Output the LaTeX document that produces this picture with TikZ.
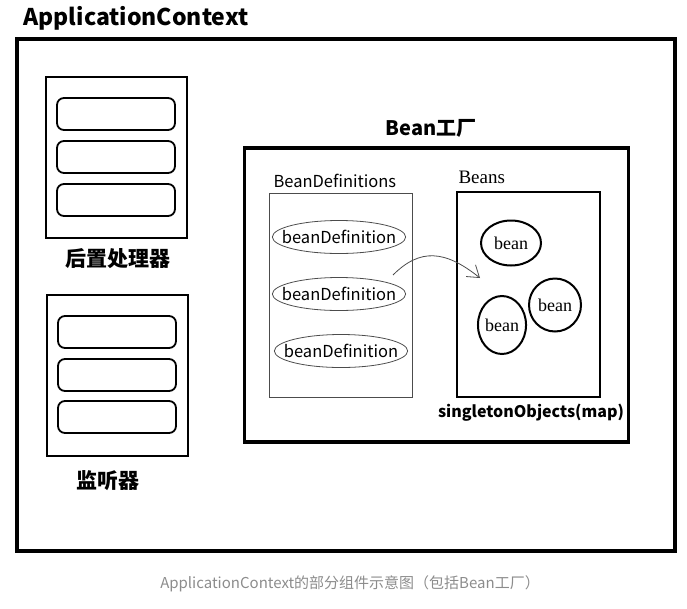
\documentclass[tikz,border=0pt]{standalone}
\usepackage{fontspec}
\newfontfamily\cjk{Noto Sans CJK SC}
\newfontfamily\beanfont{Liberation Serif}
\usepackage{tikz}
\usetikzlibrary{shapes,arrows.meta,positioning}

\begin{document}
\begin{tikzpicture}[x=1pt,y=-1pt,
    holder/.style={draw, line width=2pt, minimum width=141pt, minimum height=161pt},
    slot/.style={draw, line width=1.8pt, rounded corners=7pt, minimum width=118pt, minimum height=32pt},
    defn/.style={draw=black!70, ellipse, line width=0.8pt, minimum width=133pt, minimum height=33pt, inner xsep=-10pt, inner ysep=0pt, font=\cjk\fontsize{16.5}{16.5}\selectfont},
    bean/.style={draw, ellipse, line width=2pt, inner sep=0pt, font=\beanfont\fontsize{18}{18}\selectfont},
    heading/.style={font=\cjk\bfseries\fontsize{#1}{#1}\selectfont}]
    \useasboundingbox (0,0) rectangle (687,608);

    % ApplicationContext
    \node [draw, line width=4pt, minimum width=658pt, minimum height=512pt] (ctx) at (346,295) {};
    \node [heading=23, anchor=west] (ctxlabel) at (20,18) {ApplicationContext};

    % post processors
    \node [holder] (pp) at (116.5,157.5) {};
    \foreach \y/\n in {114/1,157/2,200/3}
        \node [slot] (pp\n) at (116,\y) {};
    \node [heading=21] (pplabel) at (118,259) {后置处理器};

    % listeners
    \node [holder] (ls) at (117.5,375.5) {};
    \foreach \y/\n in {332/1,375/2,417/3}
        \node [slot] (ls\n) at (117,\y) {};
    \node [heading=21] (lslabel) at (108,481) {监听器};

    % Bean factory
    \node [draw, line width=3.5pt, minimum width=384pt, minimum height=294pt] (factory) at (436.5,295) {};
    \node [heading=20] (factorylabel) at (431,128) {Bean工厂};

    % bean definitions
    \node [draw=black!70, line width=0.8pt, minimum width=143pt, minimum height=204pt] (defs) at (340.5,295) {};
    \node [anchor=west, font=\cjk\fontsize{16.5}{16.5}\selectfont] (defslabel) at (270,181) {BeanDefinitions};
    \node [defn] (def1) at (339,237) {beanDefinition};
    \node [defn] (def2) at (339,294) {beanDefinition};
    \node [defn] (def3) at (341,351) {beanDefinition};

    % singleton beans
    \node [draw, line width=2.5pt, minimum width=143pt, minimum height=205pt] (beans) at (528.5,294.5) {};
    \node [anchor=west, font=\beanfont\fontsize{19}{19}\selectfont] (beanslabel) at (455,177) {Beans};
    \node [bean, minimum width=60pt, minimum height=45pt] (bean1) at (511,243) {bean};
    \node [bean, minimum width=52pt, minimum height=53pt] (bean2) at (555,305) {bean};
    \node [bean, minimum width=45pt, minimum height=58pt] (bean3) at (502,325) {bean};
    \node [heading=16] (beanslabel2) at (531,413) {singletonObjects(map)};

    % definition -> bean
    \coordinate (src) at (393,275);
    \coordinate (dst) at (480,278);
    \draw [black!70, line width=0.8pt, -{Straight Barb[length=11pt,width=15pt]}] (src) .. controls (420,248) and (445,250) .. (dst);

    \node [font=\cjk\fontsize{15}{15}\selectfont, text=black!45] (caption) at (350,584) {ApplicationContext的部分组件示意图（包括Bean工厂）};
\end{tikzpicture}
\end{document}
